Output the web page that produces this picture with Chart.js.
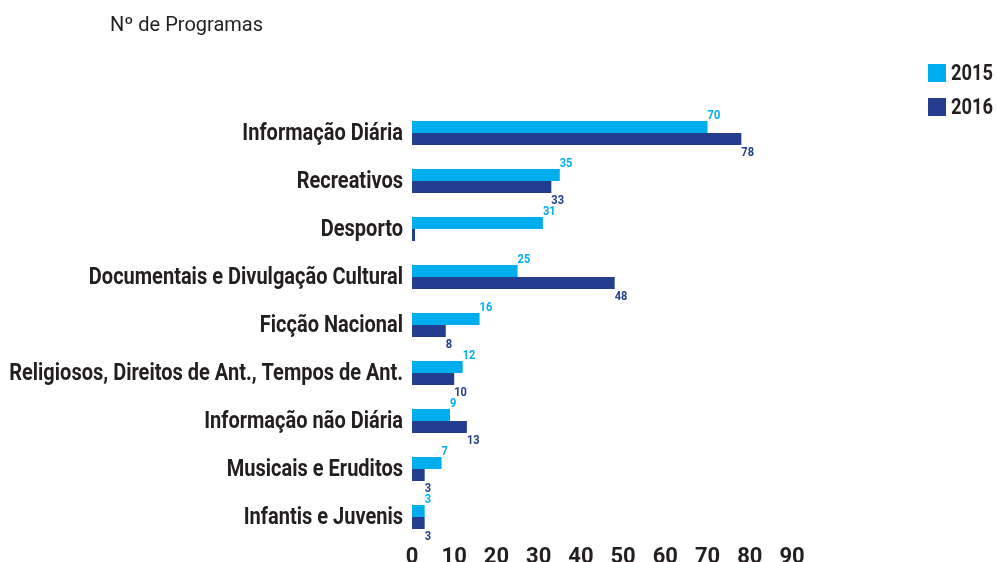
<!DOCTYPE html>
<html lang="pt">
<head>
    <meta charset="UTF-8">
    <title>Nº de Programas</title>
    <script src="https://cdn.jsdelivr.net/npm/chart.js@4.4.4/dist/chart.umd.min.js"></script>
</head>
<body style="margin: 0; background: #fff;">
    <div style="position: relative; width: 996px; height: 562px;">
        <canvas id="programasChart"></canvas>
    </div>

    <script>
        // Dados
        const categorias = [
            'Informação Diária',
            'Recreativos',
            'Desporto',
            'Documentais e Divulgação Cultural',
            'Ficção Nacional',
            'Religiosos, Direitos de Ant., Tempos de Ant.',
            'Informação não Diária',
            'Musicais e Eruditos',
            'Infantis e Juvenis'
        ];
        const anos = ['2015', '2016'];
        const valores2015 = [70, 35, 31, 25, 16, 12, 9, 7, 3];
        const valores2016 = [78, 33, 0, 48, 8, 10, 13, 3, 3];
        const ticksX = [0, 10, 20, 30, 40, 50, 60, 70, 80, 90];

        const corClara = '#00AEEF';
        const corEscura = '#253D8F';
        const corTexto = '#231F20';
        const fonte = 'Roboto, "Noto Sans", sans-serif';

        // texto comprimido na horizontal (imita Roboto Condensed)
        function textoEstreito(ctx, txt, x, y, align, fator) {
            ctx.save();
            ctx.translate(x, y);
            ctx.scale(fator, 1);
            ctx.textAlign = align;
            ctx.fillText(txt, 0, 0);
            ctx.restore();
        }

        // Etiquetas do eixo Y, valores, título e legenda
        const extras = {
            id: 'extras',
            afterDatasetsDraw(chart) {
                const ctx = chart.ctx;
                ctx.save();

                // categorias
                const y = chart.scales.y;
                ctx.fillStyle = corTexto;
                ctx.font = 'bold 23px ' + fonte;
                ctx.textBaseline = 'middle';
                chart.data.labels.forEach((lab, i) => {
                    textoEstreito(ctx, lab, y.right - 9, y.getPixelForTick(i) + 1, 'right', 0.87);
                });

                // valores
                ctx.font = 'bold 13px ' + fonte;
                chart.data.datasets.forEach((ds, i) => {
                    chart.getDatasetMeta(i).data.forEach((bar, j) => {
                        if (!ds.data[j]) return;
                        ctx.fillStyle = ds.backgroundColor;
                        if (i === 0) {
                            ctx.textBaseline = 'bottom';
                            textoEstreito(ctx, ds.data[j], bar.x, bar.y - bar.height / 2 + 1, 'left', 0.85);
                        } else {
                            ctx.textBaseline = 'top';
                            textoEstreito(ctx, ds.data[j], bar.x, bar.y + bar.height / 2 + 1, 'left', 0.85);
                        }
                    });
                });

                // título
                ctx.fillStyle = corTexto;
                ctx.font = '20px ' + fonte;
                ctx.textBaseline = 'middle';
                textoEstreito(ctx, 'Nº de Programas', 110, 26, 'left', 1);

                // legenda
                ctx.font = 'bold 22px ' + fonte;
                chart.data.datasets.forEach((ds, i) => {
                    const ly = 64 + i * 34;
                    ctx.fillStyle = ds.backgroundColor;
                    ctx.fillRect(928, ly, 18, 18);
                    ctx.fillStyle = corTexto;
                    textoEstreito(ctx, ds.label, 951, ly + 10, 'left', 0.83);
                });
                ctx.restore();
            }
        };

        new Chart(document.getElementById('programasChart'), {
            type: 'bar',
            data: {
                labels: categorias,
                datasets: [
                    { label: anos[0], data: valores2015, backgroundColor: corClara },
                    { label: anos[1], data: valores2016, backgroundColor: corEscura, minBarLength: 3 }
                ]
            },
            options: {
                indexAxis: 'y',
                responsive: true,
                maintainAspectRatio: false,
                animation: false,
                categoryPercentage: 0.5,
                barPercentage: 1,
                layout: { padding: { top: 109, right: 204, left: 0, bottom: 0 } },
                plugins: {
                    legend: { display: false },
                    tooltip: { enabled: false }
                },
                scales: {
                    x: {
                        min: 0,
                        max: 90,
                        afterBuildTicks: (scale) => { scale.ticks = ticksX.map(v => ({ value: v })); },
                        afterFit: (scale) => { scale.height = 21; },
                        grid: { display: false, drawTicks: false },
                        border: { display: false },
                        ticks: { color: corTexto, padding: 3, font: { family: fonte, size: 22, weight: 'bold' } }
                    },
                    y: {
                        afterFit: (scale) => { scale.width = 412; },
                        grid: { display: false, drawTicks: false },
                        border: { display: false },
                        ticks: { display: false }
                    }
                }
            },
            plugins: [extras]
        });
    </script>
</body>
</html>
